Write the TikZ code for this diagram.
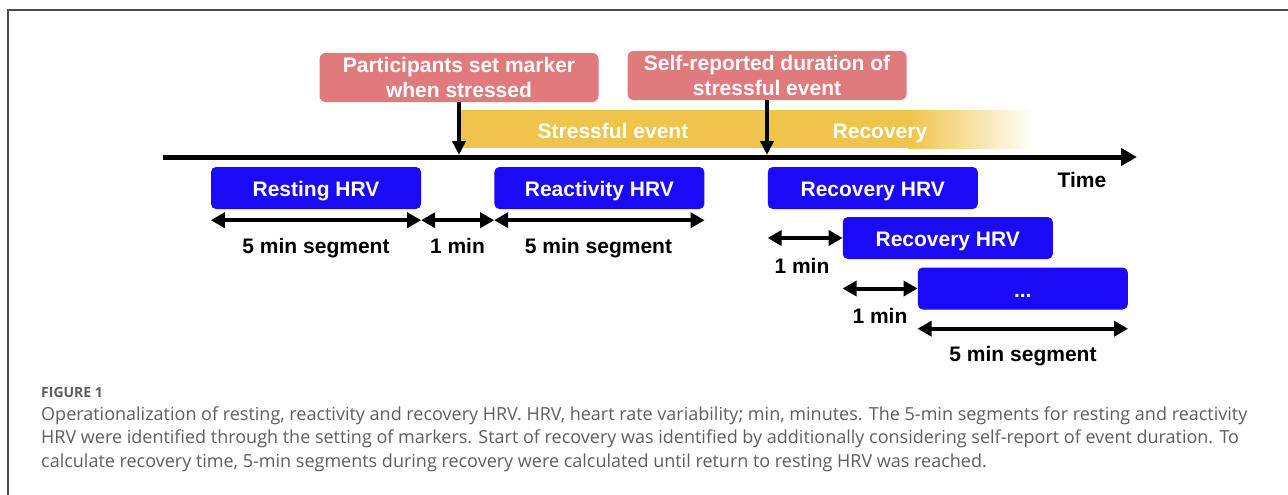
\documentclass[tikz,border=0pt]{standalone}
\usepackage{fontspec}
\setmainfont{Liberation Sans}
\newfontfamily\capfont{Open Sans}
\usetikzlibrary{arrows.meta,positioning}

\definecolor{hrvblue}{HTML}{1A0AF5}
\definecolor{markpink}{HTML}{E07A7C}
\definecolor{evyellow}{HTML}{EFC44A}
\definecolor{capgray}{HTML}{5E5E5E}
\definecolor{framegray}{HTML}{4A4A4A}

\begin{document}
\begin{tikzpicture}[x=1pt, y=-1pt,
    every node/.style={font=\fontsize{21pt}{25pt}\selectfont\bfseries, inner sep=0pt},
    hrvbox/.style={fill=hrvblue, rounded corners=5pt, text=white, minimum width=210pt, minimum height=42pt, text height=17pt, text depth=0pt},
    markbox/.style={fill=markpink, rounded corners=6pt, text=white, minimum width=279pt, minimum height=49pt, align=center},
    seg/.style={line width=4pt, {Triangle[length=14pt,width=15pt]}-{Triangle[length=14pt,width=15pt]}},
    markarrow/.style={line width=3.5pt, -{Triangle[length=14pt,width=13pt]}},
    capline/.style={anchor=base west, text=capgray, font=\capfont\fontsize{18pt}{23.5pt}\selectfont}]
    \useasboundingbox (0,0) rectangle (1288,495);
    \draw[framegray, line width=1.8pt] (8,495) -- (8,10) -- (1288,10);

    % Stressful event band
    \fill[evyellow] (460,110) rectangle (910,148);
    \shade[left color=evyellow, right color=evyellow!6] (908,110) rectangle (1028,148);
    \node[text=white, anchor=base] (stress) at (613,138) {Stressful event};
    \node[text=white, anchor=base] (recov) at (880,138) {Recovery};

    % Time axis
    \coordinate (t0) at (163,157);
    \coordinate (t1) at (1137,157);
    \draw[line width=5pt, -{Triangle[length=16pt,width=17pt]}] (t0) -- (t1);
    \node[anchor=base] (time) at (1082,187.5) {Time};

    % Markers
    \node[markbox] (mark1) at (459,77.5) {Participants set marker\\when stressed};
    \node[markbox] (mark2) at (767,75.5) {Self-reported duration of\\stressful event};
    \draw[markarrow, shorten >=2pt] (mark1.south) -- (mark1.south |- t0);
    \draw[markarrow, shorten >=2pt] (mark2.south) -- (mark2.south |- t0);

    % Resting and reactivity
    \node[hrvbox] (rest) at (316,188) {Resting HRV};
    \node[hrvbox, right=73pt of rest] (react) {Reactivity HRV};
    \draw[seg] ([yshift=-11pt]rest.south west) -- ([yshift=-11pt]rest.south east);
    \draw[seg] ([yshift=-11pt]rest.south east) -- ([yshift=-11pt]react.south west);
    \draw[seg] ([yshift=-11pt]react.south west) -- ([yshift=-11pt]react.south east);
    \node[anchor=base] (rest-len) at (316,253) {5 min segment};
    \node[anchor=base] (gap-len) at (457.5,253) {1 min};
    \node[anchor=base] (react-len) at (598.5,253) {5 min segment};

    % Recovery
    \node[hrvbox, right=63pt of react] (rec1) {Recovery HRV};
    \node[hrvbox] (rec2) at ([shift={(75,50)}]rec1) {Recovery HRV};
    \node[hrvbox] (rec3) at ([shift={(75,50.5)}]rec2) {...};
    \draw[seg] (rec2.west -| rec1.west) -- (rec2.west);
    \draw[seg] (rec3.west -| rec2.west) -- (rec3.west);
    \draw[seg] ([yshift=-19pt]rec3.south west) -- ([yshift=-19pt]rec3.south east);
    \node[anchor=base] (rec-gap1) at (802,273) {1 min};
    \node[anchor=base] (rec-gap2) at (880,323) {1 min};
    \node[anchor=base] (rec-len) at (1023,361.5) {5 min segment};

    % Caption
    \node[anchor=base west, text=capgray, font=\capfont\bfseries\fontsize{14pt}{16pt}\selectfont] (fig) at (41,397.5) {FIGURE 1};
    \node[capline] (cap1) at (41,420) {Operationalization of resting, reactivity and recovery HRV. HRV, heart rate variability; min, minutes. The 5-min segments for resting and reactivity};
    \node[capline] (cap2) at (41,443.5) {HRV were identified through the setting of markers. Start of recovery was identified by additionally considering self-report of event duration. To};
    \node[capline] (cap3) at (41,467) {calculate recovery time, 5-min segments during recovery were calculated until return to resting HRV was reached.};
\end{tikzpicture}
\end{document}
